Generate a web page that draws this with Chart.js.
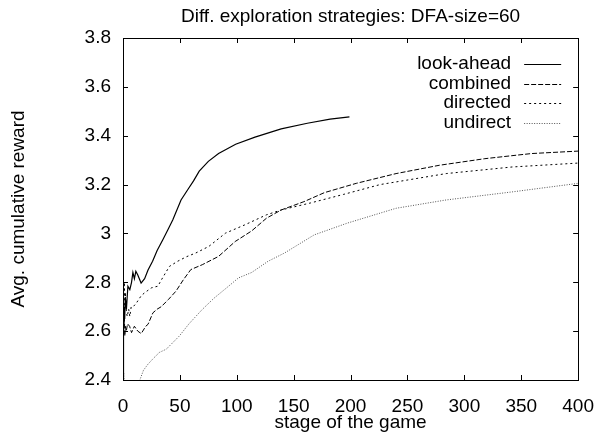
<!DOCTYPE html>
<html>
<head>
<meta charset="utf-8">
<script src="https://cdn.jsdelivr.net/npm/chart.js@4/dist/chart.umd.min.js"></script>
<style>
  html, body { margin: 0; padding: 0; background: #fff; }
</style>
</head>
<body>
<canvas id="chart" width="609" height="434"></canvas>
<script>
// stage of the game (x) and avg. cumulative reward (y)
const lookX = [0, 0.3, 0.6, 1, 1.5, 2, 3, 4.3, 6, 7.5, 8.7, 10, 11.3, 13, 15.9, 19, 22, 26, 30, 35, 40, 43.7, 51, 57, 62, 67, 75, 84, 99, 116, 139, 162, 182, 199];
const lookY = [2.4, 2.55, 2.66, 2.70, 2.65, 2.74, 2.69, 2.784, 2.77, 2.80, 2.84, 2.815, 2.845, 2.83, 2.797, 2.815, 2.85, 2.886, 2.93, 2.974, 3.02, 3.055, 3.137, 3.18, 3.215, 3.255, 3.295, 3.327, 3.365, 3.394, 3.428, 3.451, 3.468, 3.477];

const combX = [0, 0.4, 0.8, 1.2, 1.6, 2, 2.9, 4, 5.8, 7.5, 10, 13, 16, 20, 22, 26.3, 30, 33.6, 40, 46.6, 53, 59.6, 69.7, 84, 98.6, 113, 126, 139, 159, 177, 205, 240, 278, 318, 359, 400];
const combY = [2.78, 2.70, 2.62, 2.66, 2.58, 2.62, 2.60, 2.63, 2.62, 2.594, 2.62, 2.60, 2.59, 2.62, 2.628, 2.675, 2.69, 2.70, 2.73, 2.764, 2.81, 2.852, 2.872, 2.906, 2.967, 3.01, 3.062, 3.096, 3.13, 3.167, 3.205, 3.245, 3.279, 3.306, 3.327, 3.337];

const dirX = [0, 0.4, 0.8, 1.2, 1.6, 2, 3, 3.7, 5, 6, 7.2, 9, 11.9, 16, 19, 24.9, 30.6, 35, 40.8, 48, 56, 64, 75.5, 90, 107, 126, 139, 165, 194, 226, 284, 342, 400];
const dirY = [2.70, 2.79, 2.74, 2.80, 2.70, 2.76, 2.68, 2.66, 2.69, 2.66, 2.70, 2.70, 2.716, 2.745, 2.757, 2.777, 2.784, 2.82, 2.865, 2.886, 2.905, 2.92, 2.947, 3.001, 3.035, 3.076, 3.096, 3.125, 3.16, 3.2, 3.245, 3.272, 3.288];

const undX = [0, 0.3, 0.6, 1, 3, 8, 14.8, 18, 22, 27, 32, 38, 49.5, 58, 69.7, 80, 92.8, 101.5, 113, 127.5, 142, 168, 197, 240, 284, 342, 400];
const undY = [2.44, 2.40, 2.43, 2.38, 2.32, 2.34, 2.40, 2.44, 2.465, 2.49, 2.513, 2.526, 2.58, 2.63, 2.689, 2.735, 2.784, 2.818, 2.84, 2.886, 2.92, 2.994, 3.042, 3.103, 3.137, 3.17, 3.205];

const seriesNames = ['look-ahead', 'combined', 'directed', 'undirect'];
const xTicks = [0, 50, 100, 150, 200, 250, 300, 350, 400];
const yTicks = [2.4, 2.6, 2.8, 3.0, 3.2, 3.4, 3.6, 3.8];

const FONT = 'Liberation Sans, Arial, Helvetica, sans-serif';
const FS = 19;

function pts(xs, ys) {
  return xs.map((x, i) => ({ x: x, y: ys[i] }));
}

// gnuplot style box with inward ticks on all sides
const frame = {
  id: 'frame',
  afterDatasetsDraw(chart) {
    const { ctx, chartArea: a, scales: { x, y } } = chart;
    ctx.save();
    ctx.strokeStyle = '#000';
    ctx.lineWidth = 1;
    ctx.beginPath();
    xTicks.forEach(v => {
      const px = Math.round(x.getPixelForValue(v)) + 0.5;
      ctx.moveTo(px, a.bottom); ctx.lineTo(px, a.bottom - 5);
      ctx.moveTo(px, a.top); ctx.lineTo(px, a.top + 5);
    });
    yTicks.forEach(v => {
      const py = Math.round(y.getPixelForValue(v)) + 0.5;
      ctx.moveTo(a.left, py); ctx.lineTo(a.left + 5, py);
      ctx.moveTo(a.right, py); ctx.lineTo(a.right - 5, py);
    });
    ctx.stroke();
    ctx.strokeRect(Math.round(a.left) + 0.5, Math.round(a.top) + 0.5,
      Math.round(a.right - a.left), Math.round(a.bottom - a.top));
    ctx.restore();
  }
};

// title above the box and legend in the top right corner (text left of the sample)
const labels = {
  id: 'labels',
  afterDraw(chart) {
    const { ctx, chartArea: a } = chart;
    ctx.save();
    ctx.fillStyle = '#000';
    ctx.font = FS + 'px ' + FONT;
    ctx.textAlign = 'center';
    ctx.textBaseline = 'middle';
    ctx.fillText('Diff. exploration strategies: DFA-size=60', (a.left + a.right) / 2, 17);

    chart.data.datasets.forEach((ds, i) => {
      const yy = a.top + 26 + i * 19.5;
      ctx.textAlign = 'right';
      ctx.fillStyle = '#000';
      ctx.fillText(ds.label, a.right - 67, yy);
      ctx.beginPath();
      ctx.strokeStyle = ds.borderColor;
      ctx.lineWidth = ds.borderWidth;
      ctx.setLineDash(ds.borderDash || []);
      ctx.moveTo(a.right - 54, Math.round(yy) + 0.5);
      ctx.lineTo(a.right - 17, Math.round(yy) + 0.5);
      ctx.stroke();
    });
    ctx.restore();
  }
};

new Chart(document.getElementById('chart'), {
  type: 'line',
  data: {
    datasets: [
      { label: seriesNames[0], data: pts(lookX, lookY), borderColor: '#000', borderWidth: 1.2, borderDash: [] },
      { label: seriesNames[1], data: pts(combX, combY), borderColor: '#000', borderWidth: 1, borderDash: [5, 2] },
      { label: seriesNames[2], data: pts(dirX, dirY), borderColor: '#000', borderWidth: 1, borderDash: [2, 3] },
      { label: seriesNames[3], data: pts(undX, undY), borderColor: '#555', borderWidth: 1, borderDash: [1, 1.5] }
    ]
  },
  options: {
    responsive: false,
    animation: false,
    devicePixelRatio: 1,
    layout: { padding: { top: 38, right: 25, bottom: 0, left: 0 } },
    elements: { point: { radius: 0 }, line: { tension: 0, fill: false } },
    plugins: {
      legend: { display: false },
      title: { display: false },
      tooltip: { enabled: false }
    },
    scales: {
      x: {
        type: 'linear',
        min: 0, max: 400,
        afterFit: s => { s.height = 54; },
        afterBuildTicks: s => { s.ticks = xTicks.map(v => ({ value: v })); },
        grid: { display: false, drawTicks: false },
        border: { display: false },
        ticks: { color: '#000', font: { family: FONT, size: FS }, padding: 15, maxRotation: 0 },
        title: { display: true, text: 'stage of the game', color: '#000', font: { family: FONT, size: FS }, padding: { top: 0, bottom: 0 } }
      },
      y: {
        type: 'linear',
        min: 2.4, max: 3.8,
        afterFit: s => { s.width = 123; },
        afterBuildTicks: s => { s.ticks = yTicks.map(v => ({ value: v })); },
        grid: { display: false, drawTicks: false },
        border: { display: false },
        ticks: {
          color: '#000', font: { family: FONT, size: FS }, padding: 12,
          callback: v => String(+v.toFixed(1))
        },
        title: { display: true, text: 'Avg. cumulative reward', color: '#000', font: { family: FONT, size: FS }, padding: { top: 7, bottom: 0 } }
      }
    }
  },
  plugins: [frame, labels]
});
</script>
</body>
</html>
